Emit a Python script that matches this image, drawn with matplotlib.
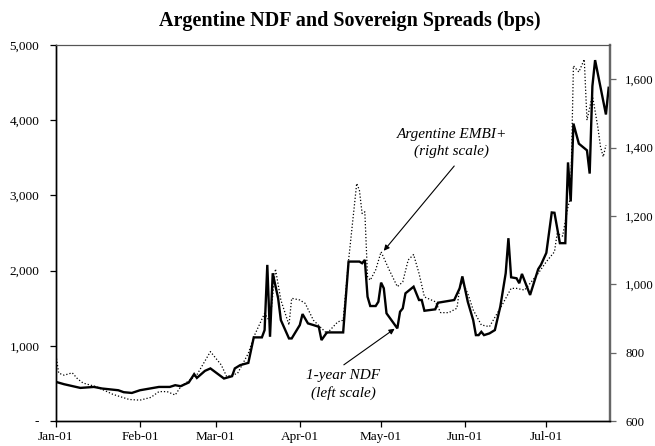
import matplotlib
matplotlib.use("Agg")
import matplotlib.pyplot as plt
import matplotlib.dates as mdates
import matplotlib.ticker as mticker
import pandas as pd

plt.rcParams['font.family'] = ['Liberation Serif', 'DejaVu Serif']

# 1-year NDF, left scale (bps)
ndf_dates = ["2001-01-01", "2001-01-04", "2001-01-10", "2001-01-15", "2001-01-18", "2001-01-24",
             "2001-01-26", "2001-01-29", "2001-02-01", "2001-02-08", "2001-02-12", "2001-02-14",
             "2001-02-16", "2001-02-19", "2001-02-21", "2001-02-22", "2001-02-25", "2001-02-27",
             "2001-03-04", "2001-03-07", "2001-03-08", "2001-03-10", "2001-03-13", "2001-03-15",
             "2001-03-18", "2001-03-19", "2001-03-20", "2001-03-21", "2001-03-22", "2001-03-24",
             "2001-03-25", "2001-03-28", "2001-03-29", "2001-04-01", "2001-04-02", "2001-04-04",
             "2001-04-06", "2001-04-08", "2001-04-09", "2001-04-11", "2001-04-14", "2001-04-17",
             "2001-04-19", "2001-04-23", "2001-04-24", "2001-04-25", "2001-04-26", "2001-04-27",
             "2001-04-29", "2001-04-30", "2001-05-01", "2001-05-02", "2001-05-03", "2001-05-07",
             "2001-05-08", "2001-05-09", "2001-05-10", "2001-05-13", "2001-05-15", "2001-05-16",
             "2001-05-17", "2001-05-21", "2001-05-22", "2001-05-28", "2001-05-30", "2001-05-31",
             "2001-06-02", "2001-06-04", "2001-06-05", "2001-06-06", "2001-06-07", "2001-06-08",
             "2001-06-10", "2001-06-12", "2001-06-14", "2001-06-16", "2001-06-17", "2001-06-18",
             "2001-06-20", "2001-06-21", "2001-06-22", "2001-06-25", "2001-06-28", "2001-06-29",
             "2001-07-01", "2001-07-03", "2001-07-04", "2001-07-06", "2001-07-08", "2001-07-09",
             "2001-07-10", "2001-07-11", "2001-07-13", "2001-07-16", "2001-07-17", "2001-07-18",
             "2001-07-19", "2001-07-23", "2001-07-24"]
ndf = [520, 489, 440, 453, 432, 409,
       383, 373, 409, 453, 453, 476,
       463, 512, 623, 573, 667, 699,
       565, 596, 699, 743, 773, 1112,
       1112, 1209, 2076, 1120, 1965, 1632,
       1342, 1098, 1098, 1276, 1422, 1298,
       1276, 1253, 1076, 1178, 1178, 1178,
       2120, 2120, 2098, 2142, 1653, 1529,
       1529, 1586, 1840, 1765, 1432, 1232,
       1453, 1498, 1698, 1786, 1609, 1609,
       1466, 1485, 1573, 1609, 1765, 1923,
       1586, 1342, 1142, 1142, 1186, 1142,
       1165, 1209, 1520, 1965, 2431, 1911,
       1898, 1832, 1956, 1676, 2020, 2076,
       2236, 2773, 2769, 2365, 2365, 3439,
       2919, 3955, 3688, 3599, 3290, 4453,
       4799, 4076, 4431]

# Argentine EMBI+ spread, right scale (bps)
embi_dates = ["2001-01-01", "2001-01-02", "2001-01-04", "2001-01-07", "2001-01-09", "2001-01-11",
              "2001-01-16", "2001-01-22", "2001-01-28", "2001-02-01", "2001-02-05", "2001-02-08",
              "2001-02-11", "2001-02-14", "2001-02-16", "2001-02-22", "2001-02-27", "2001-03-03",
              "2001-03-05", "2001-03-09", "2001-03-13", "2001-03-15", "2001-03-19", "2001-03-21",
              "2001-03-23", "2001-03-25", "2001-03-28", "2001-03-29", "2001-04-01", "2001-04-03",
              "2001-04-06", "2001-04-11", "2001-04-15", "2001-04-17", "2001-04-19", "2001-04-22",
              "2001-04-23", "2001-04-24", "2001-04-25", "2001-04-26", "2001-04-27", "2001-04-29",
              "2001-05-01", "2001-05-04", "2001-05-07", "2001-05-09", "2001-05-11", "2001-05-13",
              "2001-05-15", "2001-05-17", "2001-05-21", "2001-05-23", "2001-05-26", "2001-05-29",
              "2001-05-30", "2001-05-31", "2001-06-02", "2001-06-04", "2001-06-07", "2001-06-10",
              "2001-06-15", "2001-06-18", "2001-06-20", "2001-06-23", "2001-06-28", "2001-07-01",
              "2001-07-04", "2001-07-05", "2001-07-07", "2001-07-09", "2001-07-10", "2001-07-11",
              "2001-07-13", "2001-07-15", "2001-07-16", "2001-07-18", "2001-07-20", "2001-07-21",
              "2001-07-22", "2001-07-23"]
embi = [792, 740, 734, 741, 723, 711,
        700, 678, 663, 661, 669, 686,
        686, 676, 700, 735, 803, 764,
        730, 739, 798, 846, 915, 890,
        1045, 954, 881, 959, 954, 944,
        895, 856, 890, 895, 1070, 1295,
        1275, 1207, 1212, 1022, 1012, 1042,
        1095, 1042, 993, 1007, 1071, 1087,
        1032, 963, 949, 917, 917, 930,
        988, 1007, 973, 925, 881, 876,
        944, 988, 988, 983, 1032, 1066,
        1095, 1149, 1141, 1227, 1256, 1639,
        1621, 1658, 1480, 1553, 1460, 1402,
        1373, 1407]

month_ticks = ["2001-01-01", "2001-02-01", "2001-03-01", "2001-04-01",
               "2001-05-01", "2001-06-01", "2001-07-01"]

ndf_x = pd.to_datetime(ndf_dates)
embi_x = pd.to_datetime(embi_dates)

fig = plt.figure(figsize=(6.55, 4.46), dpi=100)
ax = fig.add_axes([56 / 655, 1 - 421 / 446, (610 - 56) / 655, (421 - 45) / 446])
ax2 = ax.twinx()

ax.plot(ndf_x, ndf, color="black", lw=1.7, solid_joinstyle="miter", zorder=3)
ax2.plot(embi_x, embi, color="black", lw=0.9, linestyle=(0, (1, 1.6)))

ax.set_xlim(pd.Timestamp("2001-01-01"), pd.Timestamp("2001-07-24 12:00"))
ax.set_ylim(0, 5000)
ax2.set_ylim(600, 1700)

ax.set_xticks(pd.to_datetime(month_ticks))
ax.xaxis.set_major_formatter(mdates.DateFormatter("%b-%y"))
ax.set_yticks(range(0, 5001, 1000))
ax.yaxis.set_major_formatter(mticker.FuncFormatter(lambda v, p: "-" if v == 0 else f"{int(v):,}"))
ax2.set_yticks(range(600, 1601, 200))
ax2.yaxis.set_major_formatter(mticker.FuncFormatter(lambda v, p: f"{int(v):,}"))

ax.tick_params(axis="x", direction="out", length=4, width=0.9, pad=3, labelsize=9.5)
ax.tick_params(axis="y", direction="out", length=4, width=0.9, pad=8, labelsize=9.5)
ax2.tick_params(axis="y", direction="out", length=4, width=0.9, pad=7, labelsize=9.2,
                color="#666666", labelcolor="black")

for a in (ax, ax2):
    a.spines["left"].set_linewidth(1.0)
    a.spines["bottom"].set_linewidth(1.0)
    a.spines["top"].set_linewidth(0.8)
    a.spines["top"].set_color("#555555")
    a.spines["right"].set_linewidth(1.6)
    a.spines["right"].set_color("#666666")

fig.text(350 / 655, 1 - 21 / 446, "Argentine NDF and Sovereign Spreads (bps)",
         ha="center", va="center", fontsize=14.5, fontweight="bold")

# series labels, each with its own arrow
ax2.text(pd.Timestamp("2001-05-27"), 1413, "Argentine EMBI+\n(right scale)",
         ha="center", va="center", fontsize=11, style="italic", linespacing=1.4)
ax2.annotate("", xy=(pd.Timestamp("2001-05-02"), 1098),
             xytext=(pd.Timestamp("2001-05-28"), 1346),
             arrowprops=dict(arrowstyle="-|>", color="black", lw=0.8,
                             mutation_scale=8, shrinkA=0, shrinkB=0))
ax.text(pd.Timestamp("2001-04-17"), 490, "1-year NDF\n(left scale)",
        ha="center", va="center", fontsize=11, style="italic", linespacing=1.4)
ax.annotate("", xy=(pd.Timestamp("2001-05-06"), 1227),
            xytext=(pd.Timestamp("2001-04-17 06:00"), 747),
            arrowprops=dict(arrowstyle="-|>", color="black", lw=0.8,
                            mutation_scale=8, shrinkA=0, shrinkB=0))

fig.savefig("out.png", dpi=100)
